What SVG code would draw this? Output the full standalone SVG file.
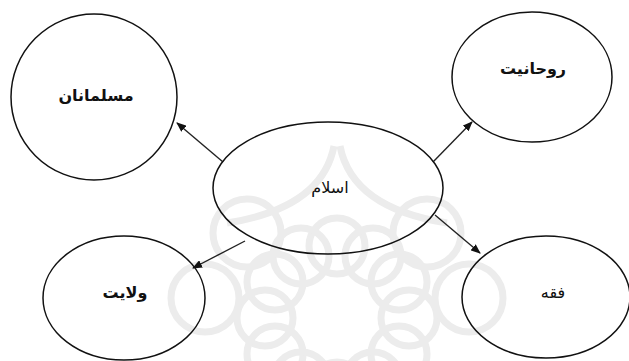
<svg xmlns="http://www.w3.org/2000/svg" width="629" height="361" viewBox="0 0 629 361">
<style>
.node{fill:none;stroke:#111;stroke-width:1.5}
.lbl{font-family:"DejaVu Sans",sans-serif;font-size:16px;fill:#111;text-anchor:middle;direction:rtl}
.b{font-weight:bold}
.edge{stroke:#222;stroke-width:1.4;fill:none;marker-end:url(#ah)}
.wm{fill:none;stroke:#ececec;stroke-width:7}
</style>
<defs>
<marker id="ah" markerWidth="10" markerHeight="8" refX="9" refY="4" orient="auto" markerUnits="userSpaceOnUse">
<path d="M0,0 L10,4 L0,8 z" fill="#111"/>
</marker>
<circle id="wc" r="28" class="wm"/>
<circle id="wc2" r="34" class="wm"/>
</defs>
<rect width="629" height="361" fill="#fff"/>
<g id="watermark" transform="translate(337,318)">
<use href="#wc" x="0" y="-72"/><use href="#wc" x="36" y="-62"/><use href="#wc" x="62" y="-36"/><use href="#wc" x="72" y="0"/><use href="#wc" x="62" y="36"/><use href="#wc" x="36" y="62"/><use href="#wc" x="-36" y="-62"/><use href="#wc" x="-62" y="-36"/><use href="#wc" x="-72" y="0"/><use href="#wc" x="-62" y="36"/><use href="#wc" x="-36" y="62"/><use href="#wc" x="0" y="72"/>
<use href="#wc2" x="-132" y="-20"/><use href="#wc2" x="-90" y="-85"/><use href="#wc2" x="90" y="-85"/><use href="#wc2" x="132" y="-20"/>
<path class="wm" d="M-3,-172 Q-15,-110 -110,-95 M3,-172 Q15,-110 110,-95"/>
</g>
<g id="connectors">
<line class="edge" x1="223" y1="162" x2="177" y2="123"/>
<line class="edge" x1="433" y1="162" x2="472" y2="122"/>
<line class="edge" x1="245" y1="241" x2="193" y2="268"/>
<line class="edge" x1="435" y1="215" x2="480" y2="253"/>
</g>
<g id="n-muslims"><circle class="node" cx="94" cy="97" r="83"/><text class="lbl b" x="96" y="101">مسلمانان</text></g>
<g id="n-ruhaniyat"><ellipse class="node" cx="532" cy="77" rx="80" ry="65"/><text class="lbl b" x="533" y="74">روحانیت</text></g>
<g id="n-islam"><ellipse class="node" cx="328" cy="188" rx="115" ry="66"/><text class="lbl" x="330" y="193">اسلام</text></g>
<g id="n-velayat"><ellipse class="node" cx="124" cy="298" rx="81" ry="62"/><text class="lbl b" x="125" y="298">ولایت</text></g>
<g id="n-feqh"><ellipse class="node" cx="546" cy="297" rx="84" ry="61"/><text class="lbl" x="553" y="298">فقه</text></g>
</svg>
